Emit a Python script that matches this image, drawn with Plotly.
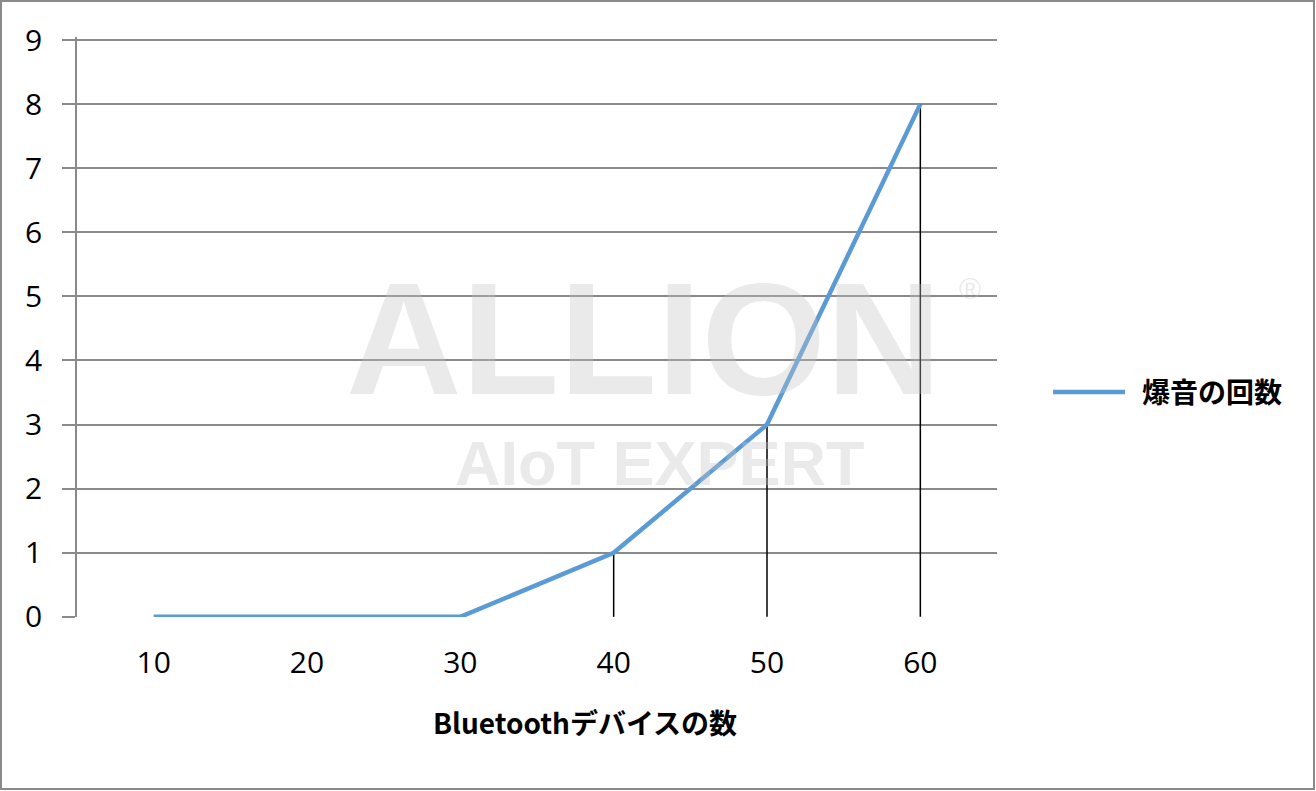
import plotly.graph_objects as go

# ---- data ----
categories = ["10", "20", "30", "40", "50", "60"]
values = [0, 0, 0, 1, 3, 8]
series_name = "爆音の回数"
x_title = "Bluetoothデバイスの数"
y_ticks = list(range(0, 10))

W, H = 1316, 791
L, R, B = 77, 997, 617          # plot area pixels
Y9 = 40                          # pixel of the top gridline (value 9)
T = 37                           # plot area top, a little above 9 so its gridline shows
unit = (B - Y9) / 9.0
ymax = 9 + (Y9 - T) / unit
PW, PH = R - L, B - T

def px(x):
    return (x - L) / PW

def py(y):
    return (B - y) / PH

fig = go.Figure()

# drop lines from each point to the x axis
dx, dy = [], []
for c, v in zip(categories, values):
    dx += [c, c, None]
    dy += [0, v, None]
fig.add_trace(go.Scatter(x=dx, y=dy, mode="lines",
                         line=dict(color="#000000", width=1.5),
                         showlegend=False, hoverinfo="skip"))

fig.add_trace(go.Scatter(x=categories, y=values, mode="lines", name=series_name,
                         line=dict(color="#5B9BD5", width=4.5),
                         showlegend=False))

wm = "rgba(195,195,195,0.35)"
annotations = [
    # watermark
    dict(x=px(643), y=py(338), xref="paper", yref="paper", text="<b>ALLION</b>",
         showarrow=False, font=dict(family="Liberation Sans", size=160, color=wm),
         xanchor="center", yanchor="middle"),
    dict(x=px(970), y=py(288), xref="paper", yref="paper", text="®",
         showarrow=False, font=dict(family="Liberation Sans", size=30, color=wm),
         xanchor="center", yanchor="middle"),
    dict(x=px(660), y=py(463), xref="paper", yref="paper", text="<b>AIoT EXPERT</b>",
         showarrow=False, font=dict(family="Liberation Sans", size=63, color=wm),
         xanchor="center", yanchor="middle"),
    # x axis title
    dict(x=px(585), y=py(722), xref="paper", yref="paper", text="<b>" + x_title + "</b>",
         showarrow=False, font=dict(family="Noto Sans CJK JP", size=28, color="#000000"),
         xanchor="center", yanchor="middle"),
    # legend text
    dict(x=px(1140), y=py(391), xref="paper", yref="paper", text="<b>" + series_name + "</b>",
         showarrow=False, font=dict(family="Noto Sans CJK JP", size=28, color="#000000"),
         xanchor="left", yanchor="middle"),
]

shapes = [
    # legend line
    dict(type="line", xref="paper", yref="paper", x0=px(1053), x1=px(1125), y0=py(392), y1=py(392),
         line=dict(color="#5B9BD5", width=4.5)),
    # outer border
    dict(type="rect", xref="paper", yref="paper", x0=px(1), x1=px(1314), y0=py(1), y1=py(789),
         line=dict(color="#8a8a8a", width=2), layer="below"),
]

fig.update_layout(
    width=W, height=H,
    margin=dict(l=L, r=W - R, t=T, b=H - B, pad=0),
    paper_bgcolor="#ffffff", plot_bgcolor="#ffffff",
    showlegend=False,
    annotations=annotations,
    shapes=shapes,
    font=dict(family="Open Sans", color="#000000"),
)
fig.update_xaxes(type="category", categoryorder="array", categoryarray=categories,
                 range=[-0.5, len(categories) - 0.5],
                 showgrid=False, zeroline=False, showline=False,
                 ticks="outside", ticklen=0, tickcolor="rgba(0,0,0,0)",
                 ticklabelstandoff=19,
                 tickfont=dict(family="Open Sans", size=30, color="#000000"))
fig.update_yaxes(range=[-0.002, ymax], tickvals=y_ticks, ticktext=[str(v) for v in y_ticks],
                 showgrid=True, gridcolor="#8a8a8a", gridwidth=1.5,
                 zeroline=False, showline=True, linecolor="#8a8a8a", linewidth=1.5,
                 ticks="outside", ticklen=13, tickcolor="#8a8a8a", tickwidth=1.5,
                 ticklabelstandoff=14,
                 tickfont=dict(family="Open Sans", size=30, color="#000000"))

fig.write_html("out.html", config={"displayModeBar": False},
               post_script="document.body.style.margin='0';document.body.style.padding='0';")
